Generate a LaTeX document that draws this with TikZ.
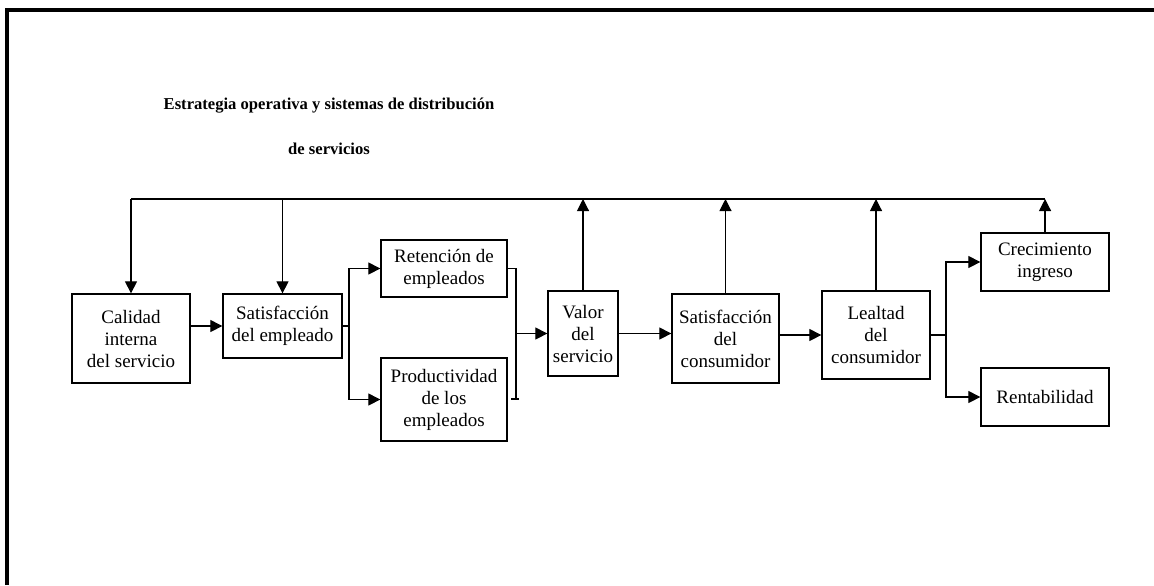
\documentclass[tikz,border=0pt]{standalone}
\usepackage{fontspec}
\setmainfont{Liberation Serif}
\usetikzlibrary{arrows.meta}
\begin{document}
\begin{tikzpicture}[x=0.5pt,y=-0.5pt,
  box/.style={draw,line width=0.65pt,rectangle,inner sep=1pt,align=center,
    font=\fontsize{9.5}{11}\selectfont},
  link/.style={line width=0.55pt},
  arr/.style={link,-{Triangle[length=6pt,width=6pt]}}]
\useasboundingbox (0,0) rectangle (1154,585);
% frame (top and left edges)
\draw[line width=2pt] (7,585) -- (7,10) -- (1154,10);
% title
\node[font=\bfseries\fontsize{8.3}{22.5}\selectfont,align=center] (title) at (329,126)
  {Estrategia operativa y sistemas de distribución\\de servicios};
% boxes
\node[box,minimum width=59pt,minimum height=44.5pt] (cal) at (131,338.5) {Calidad\\interna\\del servicio};
\node[box,minimum width=59.5pt,minimum height=32pt] (semp) at (282.5,326) {Satisfacción\\del empleado};
\node[box,minimum width=63pt,minimum height=28.5pt] (ret) at (444,268.5) {Retención de\\empleados};
\node[box,minimum width=63pt,minimum height=41.5pt] (prod) at (444,399.5) {Productividad\\de los\\empleados};
\node[box,minimum width=35pt,minimum height=42.5pt] (val) at (583,333.5) {Valor\\del\\servicio};
\node[box,minimum width=53.5pt,minimum height=44.5pt] (scon) at (725.5,338.5) {Satisfacción\\del\\consumidor};
\node[box,minimum width=54pt,minimum height=44pt] (leal) at (876,335) {Lealtad\\del\\consumidor};
\node[box,minimum width=64pt,minimum height=29pt] (crec) at (1045,262) {Crecimiento\\ingreso};
\node[box,minimum width=64pt,minimum height=29pt] (rent) at (1045,397) {Rentabilidad};
% junction points
\coordinate (top) at (0,199);
\coordinate (s1) at (349,326);
\coordinate (m1) at (516,399);
\coordinate (s2) at (946,335);
% feedback line
\draw[link] (cal.north |- top) -- (crec.north |- top);
\draw[arr] (cal.north |- top) -- (cal.north);
\draw[arr] (semp.north |- top) -- (semp.north);
\draw[arr] (val.north) -- (val.north |- top);
\draw[arr] (scon.north) -- (scon.north |- top);
\draw[arr] (leal.north) -- (leal.north |- top);
\draw[arr] (crec.north) -- (crec.north |- top);
% main chain
\draw[arr] (cal.east |- semp.west) -- (semp.west);
\draw[link] (semp.east) -- (s1);
\draw[arr] (s1) |- (ret.west);
\draw[arr] (s1) |- (prod.west);
\draw[link] (ret.east) -| (m1);
\draw[link] ([xshift=-2.5pt]m1) -- ([xshift=1.5pt]m1);
\draw[arr] (m1 |- val.west) -- (val.west);
\draw[arr] (val.east) -- (val.east -| scon.west);
\draw[arr] (scon.east |- leal.west) -- (leal.west);
\draw[link] (leal.east) -- (s2);
\draw[arr] (s2) |- (crec.west);
\draw[arr] (s2) |- (rent.west);
\end{tikzpicture}
\end{document}
